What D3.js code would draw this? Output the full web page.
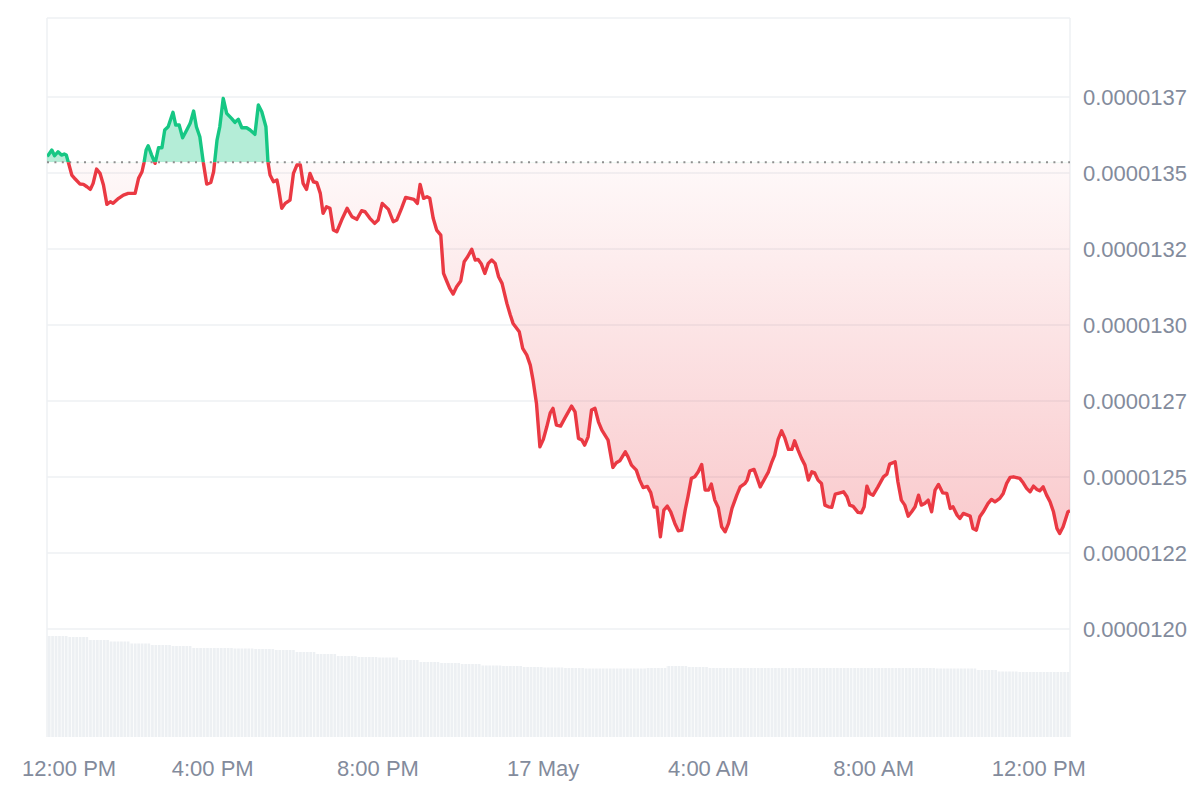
<!DOCTYPE html>
<html><head><meta charset="utf-8">
<script src="https://cdn.jsdelivr.net/npm/d3@7/dist/d3.min.js"></script>
<style>html,body{margin:0;padding:0;background:#fff}svg{display:block}</style>
</head><body>
<svg id="chart" width="1200" height="800"></svg>
<script>
// ---- DATA ----
// minutes after 16 May 12:00 PM
const times = [0,2,7,11,16,21,25,28,31,36,
41,48,53,58,63,67,72,77,82,87,
92,96,104,111,118,128,133,138,141,144,
147,152,157,162,167,171,176,183,187,192,
197,203,208,213,217,222,227,232,238,242,
247,251,256,261,268,273,278,283,290,295,
302,307,312,318,321,324,329,334,336,341,
346,353,358,363,368,372,377,382,387,392,
397,401,406,411,416,421,428,436,443,450,
457,462,469,476,481,487,496,503,508,515,
521,527,533,538,542,547,552,556,561,566,
572,576,581,585,590,595,601,606,611,617,
622,626,631,636,641,646,651,656,661,668,
673,677,686,691,697,702,706,711,716,721,
726,731,735,740,746,752,762,767,772,777,
781,786,791,796,801,806,815,822,827,832,
840,844,849,856,861,866,872,877,882,886,
891,896,901,906,912,917,922,927,931,936,
941,946,951,956,961,965,970,975,980,985,
990,995,1002,1007,1014,1017,1021,1027,1031,1036,
1040,1048,1053,1057,1062,1067,1072,1077,1082,1086,
1091,1096,1101,1106,1111,1115,1120,1125,1130,1135,
1140,1145,1152,1157,1162,1166,1171,1178,1183,1187,
1191,1195,1200,1207,1215,1220,1224,1232,1236,1241,
1246,1251,1256,1261,1266,1270,1275,1280,1285,1290,
1295,1301,1307,1312,1316,1322,1326,1331,1341,1345,
1350,1355,1360,1367,1372,1377,1384,1389,1394,1399,
1404,1413,1418,1423,1428,1433,1438,1442,1447,1452,
1457,1462,1467,1471,1476,1483,1486];

const prices = [1.35560e-5,1.35592e-5,1.35757e-5,1.35569e-5,1.35701e-5,1.35592e-5,1.35625e-5,1.35592e-5,1.35352e-5,1.34934e-5,
1.34803e-5,1.34638e-5,1.34628e-5,1.34549e-5,1.34464e-5,1.34661e-5,1.35132e-5,1.34990e-5,1.34605e-5,1.33970e-5,
1.34056e-5,1.34003e-5,1.34168e-5,1.34276e-5,1.34332e-5,1.34332e-5,1.34826e-5,1.35043e-5,1.35352e-5,1.35757e-5,
1.35898e-5,1.35592e-5,1.35319e-5,1.35832e-5,1.35832e-5,1.36415e-5,1.36523e-5,1.36997e-5,1.36579e-5,1.36579e-5,
1.36161e-5,1.36415e-5,1.36635e-5,1.37040e-5,1.36523e-5,1.36194e-5,1.35352e-5,1.34638e-5,1.34694e-5,1.35043e-5,
1.36086e-5,1.36523e-5,1.37458e-5,1.36964e-5,1.36800e-5,1.36668e-5,1.36767e-5,1.36490e-5,1.36490e-5,1.36415e-5,
1.36273e-5,1.37237e-5,1.37017e-5,1.36523e-5,1.35352e-5,1.34934e-5,1.34714e-5,1.34770e-5,1.34549e-5,1.33839e-5,
1.34003e-5,1.34112e-5,1.34990e-5,1.35263e-5,1.35263e-5,1.34661e-5,1.34464e-5,1.34990e-5,1.34714e-5,1.34681e-5,
1.34332e-5,1.33674e-5,1.33891e-5,1.33839e-5,1.33125e-5,1.33069e-5,1.33454e-5,1.33839e-5,1.33562e-5,1.33477e-5,
1.33760e-5,1.33727e-5,1.33510e-5,1.33345e-5,1.33454e-5,1.34003e-5,1.33806e-5,1.33398e-5,1.33454e-5,1.33839e-5,
1.34200e-5,1.34168e-5,1.34135e-5,1.34003e-5,1.34628e-5,1.34168e-5,1.34220e-5,1.34168e-5,1.33510e-5,1.33125e-5,
1.32960e-5,1.31700e-5,1.31424e-5,1.31207e-5,1.31019e-5,1.31259e-5,1.31447e-5,1.32082e-5,1.32246e-5,1.32490e-5,
1.32138e-5,1.32161e-5,1.32006e-5,1.31700e-5,1.32029e-5,1.32138e-5,1.32029e-5,1.31588e-5,1.31371e-5,1.30713e-5,
1.30328e-5,1.30055e-5,1.29779e-5,1.29233e-5,1.29012e-5,1.28683e-5,1.28190e-5,1.27423e-5,1.25995e-5,1.26239e-5,
1.26653e-5,1.27114e-5,1.27259e-5,1.26709e-5,1.26676e-5,1.26930e-5,1.27334e-5,1.27147e-5,1.26272e-5,1.26216e-5,
1.26051e-5,1.26324e-5,1.27203e-5,1.27259e-5,1.26818e-5,1.26545e-5,1.26216e-5,1.25317e-5,1.25469e-5,1.25535e-5,
1.25831e-5,1.25666e-5,1.25393e-5,1.25229e-5,1.24900e-5,1.24653e-5,1.24692e-5,1.24488e-5,1.24011e-5,1.24011e-5,
1.23034e-5,1.23913e-5,1.24044e-5,1.23857e-5,1.23475e-5,1.23232e-5,1.23255e-5,1.23913e-5,1.24350e-5,1.24956e-5,
1.25008e-5,1.25173e-5,1.25416e-5,1.24571e-5,1.24571e-5,1.24768e-5,1.24242e-5,1.24002e-5,1.23363e-5,1.23199e-5,
1.23475e-5,1.23969e-5,1.24406e-5,1.24679e-5,1.24791e-5,1.24900e-5,1.25206e-5,1.25252e-5,1.25008e-5,1.24679e-5,
1.24844e-5,1.25173e-5,1.25502e-5,1.25722e-5,1.26239e-5,1.26522e-5,1.26272e-5,1.25910e-5,1.25910e-5,1.26193e-5,
1.25887e-5,1.25614e-5,1.25393e-5,1.24900e-5,1.25173e-5,1.25140e-5,1.24900e-5,1.24791e-5,1.24077e-5,1.24021e-5,
1.24002e-5,1.24439e-5,1.24482e-5,1.24515e-5,1.24350e-5,1.24077e-5,1.24034e-5,1.23840e-5,1.23824e-5,1.24021e-5,
1.24702e-5,1.24462e-5,1.24406e-5,1.24679e-5,1.25008e-5,1.25097e-5,1.25426e-5,1.25502e-5,1.24844e-5,1.24242e-5,
1.24077e-5,1.23715e-5,1.23857e-5,1.24021e-5,1.24406e-5,1.24077e-5,1.24133e-5,1.24242e-5,1.23857e-5,1.24571e-5,
1.24758e-5,1.24482e-5,1.24462e-5,1.23969e-5,1.24021e-5,1.23748e-5,1.23640e-5,1.23804e-5,1.23715e-5,1.23311e-5,
1.23255e-5,1.23692e-5,1.23857e-5,1.24133e-5,1.24265e-5,1.24186e-5,1.24298e-5,1.24462e-5,1.24791e-5,1.24989e-5,
1.25008e-5,1.24956e-5,1.24811e-5,1.24627e-5,1.24515e-5,1.24702e-5,1.24594e-5,1.24548e-5,1.24679e-5,1.24406e-5,
1.24186e-5,1.23857e-5,1.23311e-5,1.23146e-5,1.23363e-5,1.23857e-5,1.23890e-5];

// reference (opening) price drawn as dotted line
const basePrice = 1.35352e-5;

// volume, one value per 30-minute bucket (relative units)
const volumeBucketMinutes = 30;
const volumes = [101,100,97,95.5,93.5,92,91,89,89,88.5,
88,87,85,83,81,80,79.5,77,75,74,
73,71.5,71,70,69.5,69,68.5,68.5,68.5,69,
71,70,69,69,69,69,69,69,69,69,
69,69,69,68.5,68.5,67,65.5,65,65,65];

const yTickValues = [1.2e-5,1.225e-5,1.25e-5,1.275e-5,1.3e-5,1.325e-5,1.35e-5,1.375e-5];
const yTickLabels = ["0.0000120","0.0000122","0.0000125","0.0000127","0.0000130","0.0000132","0.0000135","0.0000137"];
const xTickMinutes = [0,240,480,720,960,1200,1440];
const xTickLabels = ["12:00 PM","4:00 PM","8:00 PM","17 May","4:00 AM","8:00 AM","12:00 PM"];

// ---- CHART ----
const start = new Date(2024, 4, 16, 12, 0);
const toDate = m => new Date(start.getTime() + m * 60000);
const data = times.map((m, i) => ({t: toDate(m), p: prices[i]}));

const L = 47, R = 1070, T = 18, B = 737;
const RED = "#ea3943", GREEN = "#16c784";
const GRID = "#eef0f3", TEXT = "#838b9c";
const FONT = "'Liberation Sans', Arial, Helvetica, sans-serif";

const svg = d3.select("#chart");
const x = d3.scaleTime().domain([start, toDate(d3.max(times))]).range([L, R]);
const y = d3.scaleLinear().domain([1.1645e-5, 1.4010e-5]).range([B, T]);
const volY = d3.scaleLinear().domain([0, d3.max(volumes)]).range([B, 636]);
const yBase = y(basePrice);

const defs = svg.append("defs");
const stripe = defs.append("pattern").attr("id", "stripes").attr("patternUnits", "userSpaceOnUse")
  .attr("width", x(toDate(5)) - x(toDate(0))).attr("height", 10).attr("x", L);
stripe.append("rect").attr("width", 10).attr("height", 10).attr("fill", "#edf0f3");
stripe.append("rect").attr("width", 0.8).attr("height", 10).attr("fill", "#ffffff").attr("opacity", 0.85);

defs.append("clipPath").attr("id", "clipAbove").append("rect")
  .attr("x", L).attr("y", 0).attr("width", R - L).attr("height", yBase);
defs.append("clipPath").attr("id", "clipBelow").append("rect")
  .attr("x", L).attr("y", yBase).attr("width", R - L).attr("height", 800 - yBase);

const grad = defs.append("linearGradient").attr("id", "redGrad")
  .attr("gradientUnits", "userSpaceOnUse").attr("x1", 0).attr("x2", 0)
  .attr("y1", yBase).attr("y2", y(d3.min(prices)));
grad.append("stop").attr("offset", 0).attr("stop-color", RED).attr("stop-opacity", 0.03);
grad.append("stop").attr("offset", 1).attr("stop-color", RED).attr("stop-opacity", 0.27);

// volume bars (bucketed)
svg.append("g").selectAll("rect").data(volumes).join("rect")
  .attr("x", (v, i) => x(toDate(i * volumeBucketMinutes)))
  .attr("width", (v, i) => Math.max(0, Math.min(R, x(toDate((i + 1) * volumeBucketMinutes))) - x(toDate(i * volumeBucketMinutes))))
  .attr("y", v => volY(v))
  .attr("height", v => B - volY(v))
  .attr("fill", "url(#stripes)");

// grid
svg.append("g").selectAll("line").data(yTickValues).join("line")
  .attr("x1", L).attr("x2", R).attr("y1", d => y(d)).attr("y2", d => y(d))
  .attr("stroke", GRID).attr("stroke-width", 1.5);
// frame
const frame = svg.append("g").attr("stroke", GRID).attr("stroke-width", 1.5);
frame.append("line").attr("x1", L).attr("x2", R).attr("y1", T).attr("y2", T);
frame.append("line").attr("x1", L).attr("x2", L).attr("y1", T).attr("y2", B);
frame.append("line").attr("x1", R).attr("x2", R).attr("y1", T).attr("y2", B);

// areas
const area = d3.area().x(d => x(d.t)).y0(yBase).y1(d => y(d.p));
svg.append("path").datum(data).attr("d", area).attr("fill", GREEN).attr("fill-opacity", 0.32)
  .attr("clip-path", "url(#clipAbove)");
svg.append("path").datum(data).attr("d", area).attr("fill", "url(#redGrad)")
  .attr("clip-path", "url(#clipBelow)");

// baseline dotted
svg.append("line").attr("x1", L).attr("x2", R).attr("y1", yBase).attr("y2", yBase)
  .attr("stroke", "#8f8f8f").attr("stroke-width", 2).attr("stroke-dasharray", "2,5.4");

// lines
const line = d3.line().x(d => x(d.t)).y(d => y(d.p));
svg.append("path").datum(data).attr("d", line).attr("fill", "none").attr("stroke", GREEN)
  .attr("stroke-width", 3.4).attr("stroke-linejoin", "round").attr("clip-path", "url(#clipAbove)");
svg.append("path").datum(data).attr("d", line).attr("fill", "none").attr("stroke", RED)
  .attr("stroke-width", 3.4).attr("stroke-linejoin", "round").attr("clip-path", "url(#clipBelow)");

// y axis (right)
const yAxis = d3.axisRight(y).tickValues(yTickValues)
  .tickFormat((d, i) => yTickLabels[i]).tickSize(0).tickPadding(0);
const gy = svg.append("g").attr("transform", `translate(1083,0)`).call(yAxis);
gy.select(".domain").remove();
gy.selectAll("text").attr("font-family", FONT).attr("font-size", 22).attr("fill", TEXT)
  .attr("x", 0).attr("dy", "0.35em");

// x axis
const xAxis = d3.axisBottom(x).tickValues(xTickMinutes.map(toDate))
  .tickFormat((d, i) => xTickLabels[i]).tickSize(0).tickPadding(0);
const gx = svg.append("g").attr("transform", `translate(0,${B})`).call(xAxis);
gx.select(".domain").remove();
gx.selectAll("text").attr("font-family", FONT).attr("font-size", 22).attr("fill", TEXT)
  .attr("y", 39).attr("dy", 0);
// keep first/last labels inside the canvas
gx.selectAll(".tick").each(function () {
  const tick = d3.select(this);
  const txt = tick.select("text");
  const w = txt.node().getComputedTextLength();
  const tx = +tick.attr("transform").match(/translate\(([-\d.]+)/)[1];
  const minX = 22 + w / 2;
  if (tx < minX) txt.attr("x", minX - tx);
});
</script>
</body></html>
